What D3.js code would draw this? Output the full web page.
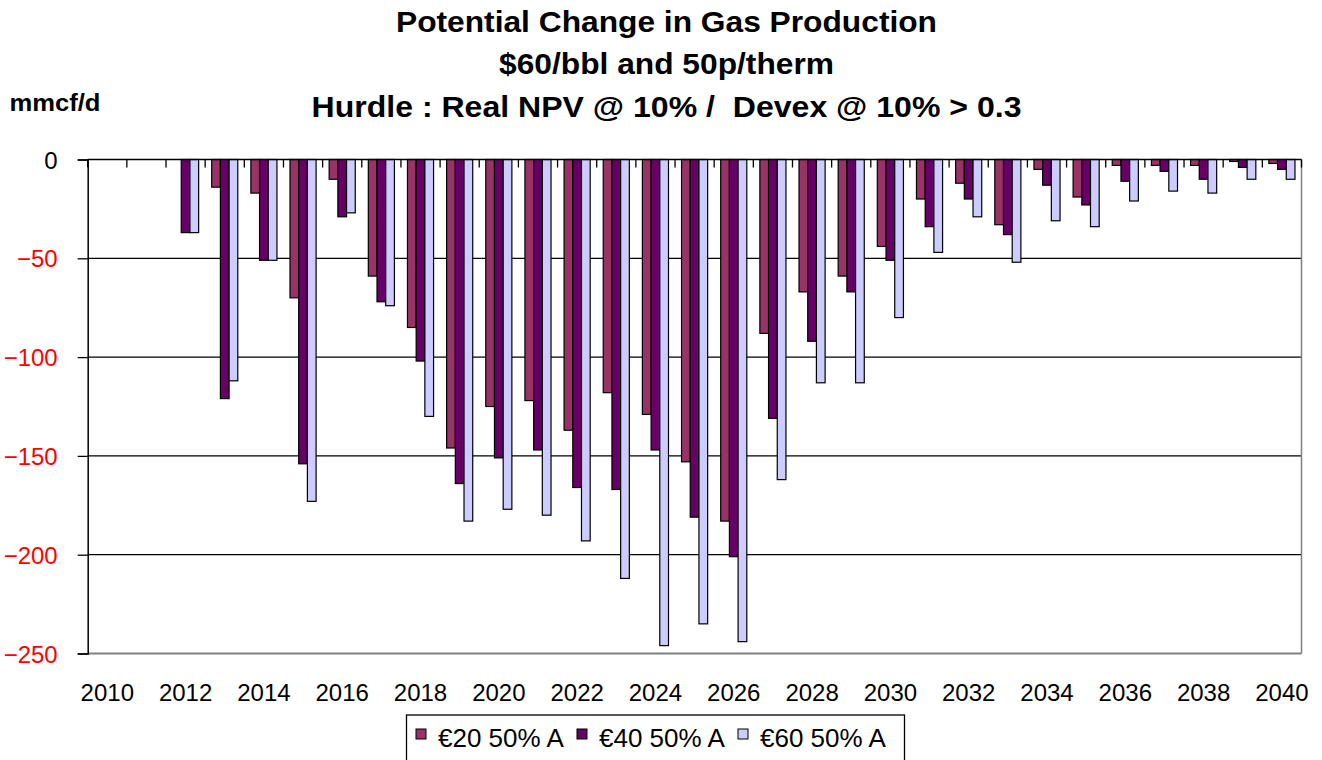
<!DOCTYPE html>
<html>
<head>
<meta charset="utf-8">
<script src="https://cdn.jsdelivr.net/npm/d3@7"></script>
<style>
  html, body { margin: 0; padding: 0; background: #fff; }
  svg { display: block; font-family: "Liberation Sans", Arial, sans-serif; }
</style>
</head>
<body>
<svg id="chart" width="1322" height="760"></svg>
<script>
// ---- Data ----
const years = d3.range(2010, 2041).map(String);
const seriesNames = ["€20 50% A", "€40 50% A", "€60 50% A"];
const e20 = [0, 0, 0, -14, -17, -70, -10, -59, -85, -146, -125, -122, -137, -118, -129, -153, -183, -88, -67, -59, -44, -20, -12, -33, -5, -19, -3, -3, -3, -1, -2];
const e40 = [0, 0, -37, -121, -51, -154, -29, -72, -102, -164, -151, -147, -166, -167, -147, -181, -201, -131, -92, -67, -51, -34, -20, -38, -13, -23, -11, -6, -10, -4, -5];
const e60 = [0, 0, -37, -112, -51, -173, -27, -74, -130, -183, -177, -180, -193, -212, -246, -235, -244, -162, -113, -113, -80, -47, -29, -52, -31, -34, -21, -16, -17, -10, -10];
const yTicks = [0, -50, -100, -150, -200, -250];
const xLabelYears = years.filter(y => (+y) % 2 === 0);
const colors = ["#993366", "#660066", "#CCCCFF"];

const titleLines = ["Potential Change in Gas Production", "$60/bbl and 50p/therm", "Hurdle : Real NPV @ 10% /  Devex @ 10% > 0.3"];
const unitLabel = "mmcf/d";

// ---- Layout ----
const svg = d3.select("#chart");
const pLeft = 87.7, pRight = 1301.5, pTop = 159.5, pBottom = 653.5;

const x = d3.scaleBand().domain(years).range([pLeft, pRight]).paddingInner(0).paddingOuter(0);
const y = d3.scaleLinear().domain([-250, 0]).range([pBottom, pTop]);
const barW = x.bandwidth() / 4.5;
const groupOff = barW * 0.75;

const seriesData = [e20, e40, e60];

// gridlines
svg.append("g").selectAll("line")
  .data(yTicks.filter(v => v !== 0 && v !== -250))
  .join("line")
  .attr("x1", pLeft).attr("x2", pRight)
  .attr("y1", d => y(d)).attr("y2", d => y(d))
  .attr("stroke", "#000").attr("stroke-width", 1.3);

// plot border right & bottom (gray)
svg.append("line").attr("x1", pRight).attr("x2", pRight).attr("y1", pTop).attr("y2", pBottom)
  .attr("stroke", "#808080").attr("stroke-width", 1.5);
svg.append("line").attr("x1", pLeft).attr("x2", pRight).attr("y1", pBottom).attr("y2", pBottom)
  .attr("stroke", "#808080").attr("stroke-width", 1.8);

// category ticks on zero line
svg.append("g").selectAll("line")
  .data(d3.range(years.length + 1))
  .join("line")
  .attr("x1", i => pLeft + i * x.step()).attr("x2", i => pLeft + i * x.step())
  .attr("y1", y(0)).attr("y2", y(0) + 8)
  .attr("stroke", "#000").attr("stroke-width", 1.3);

// bars
seriesData.forEach((vals, s) => {
  svg.append("g").selectAll("rect")
    .data(vals.map((v, i) => ({ year: years[i], v })).filter(d => d.v !== 0))
    .join("rect")
    .attr("x", d => x(d.year) + groupOff + s * barW)
    .attr("y", y(0))
    .attr("width", barW)
    .attr("height", d => y(d.v) - y(0))
    .attr("fill", colors[s])
    .attr("stroke", "#000")
    .attr("stroke-width", 1.2);
});

// zero axis line
svg.append("line").attr("x1", pLeft).attr("x2", pRight).attr("y1", y(0)).attr("y2", y(0))
  .attr("stroke", "#000").attr("stroke-width", 1.5);

// y axis
const yAxis = d3.axisLeft(y).tickValues(yTicks).tickSize(10).tickPadding(20).tickFormat(d3.format("d"));
const yg = svg.append("g").attr("transform", `translate(${pLeft},0)`).call(yAxis);
yg.select(".domain").attr("stroke", "#000").attr("stroke-width", 1.5);
yg.selectAll(".tick line").attr("stroke", "#000").attr("stroke-width", 1.3);
yg.selectAll(".tick text")
  .attr("font-size", 24)
  .attr("font-family", "'Liberation Sans', Arial, sans-serif")
  .attr("fill", d => d === 0 ? "#000" : "#FF0000")
  .attr("dy", "0.36em");

// x axis labels
const xAxis = d3.axisBottom(x).tickValues(xLabelYears).tickSize(0).tickPadding(30);
const xg = svg.append("g").attr("transform", `translate(0,${pBottom})`).call(xAxis);
xg.select(".domain").remove();
xg.selectAll(".tick text")
  .attr("font-size", 24)
  .attr("font-family", "'Liberation Sans', Arial, sans-serif")
  .attr("fill", "#000");

// title
const titleBase = [32, 74, 117];
const titleWidths = [541, 335, 710];
svg.append("g").selectAll("text")
  .data(titleLines)
  .join("text")
  .attr("x", 666.5)
  .attr("y", (d, i) => titleBase[i])
  .attr("text-anchor", "middle")
  .attr("font-size", 29.5)
  .attr("font-weight", "bold")
  .style("white-space", "pre")
  .attr("textLength", (d, i) => titleWidths[i])
  .attr("lengthAdjust", "spacingAndGlyphs")
  .text(d => d);

svg.append("text")
  .attr("x", 9.5).attr("y", 111)
  .attr("font-size", 23)
  .attr("font-weight", "bold")
  .attr("textLength", 91)
  .attr("lengthAdjust", "spacingAndGlyphs")
  .text(unitLabel);

// legend
const legend = svg.append("g");
legend.append("rect")
  .attr("x", 406.5).attr("y", 715).attr("width", 498).attr("height", 60)
  .attr("fill", "#fff").attr("stroke", "#000").attr("stroke-width", 1.3);
const legX = [416, 577, 738];
seriesNames.forEach((name, i) => {
  legend.append("rect")
    .attr("x", legX[i]).attr("y", 729).attr("width", 10).attr("height", 10)
    .attr("fill", colors[i]).attr("stroke", "#000").attr("stroke-width", 1);
  legend.append("text")
    .attr("x", legX[i] + 22).attr("y", 746.5)
    .attr("font-size", 26)
    .text(name);
});
</script>
</body>
</html>
